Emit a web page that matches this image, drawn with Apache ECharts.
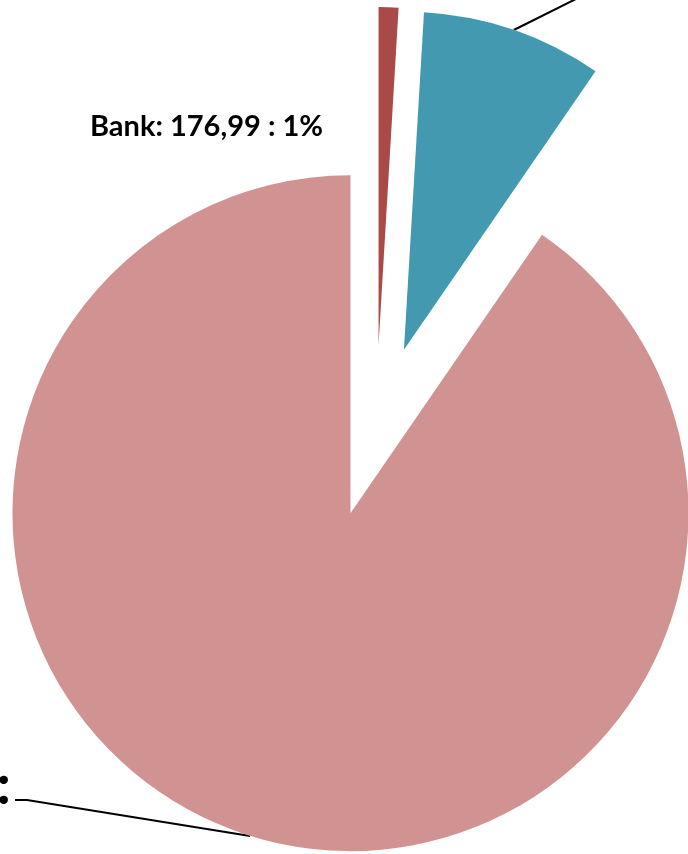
<!DOCTYPE html>
<html><head><meta charset="utf-8">
<script src="https://cdn.jsdelivr.net/npm/echarts@6/dist/echarts.min.js"></script>
<style>html,body{margin:0;padding:0;background:#fff}#c{width:688px;height:854px}</style>
</head><body><div id="c"></div>
<script>
const categories = ['Bank', 'Versicherung', 'Sonstiges'];
const values = [176.99, 1620, 16940];
const colors = ['#A94A48', '#4399B0', '#D19292'];
const wrapLabel = [false, false, true];
// label placement for each slice's data label
const labelPlacement = [
  {x: 90, y: 127, align: 'left', line: false, size: 29, lh: 34, pad: [0, 0, 0, 0]},
  {x: 686, y: -50, align: 'left', line: true, size: 56, lh: 64, pad: [0, 0, 0, 0]},
  {right: 15, y: 800, align: 'center', line: true, size: 56, lh: 28, pad: [0, 4, 0, 0]}
];
const pieCenter = [376, 431];
const pieRadius = 338;
const explode = 86;

function fmt(v) {
  const parts = v.toFixed(2).split('.');
  return parts[0].replace(/\B(?=(\d{3})+(?!\d))/g, '.') + ',' + parts[1];
}

const total = values.reduce((a, b) => a + b, 0);
let cum = 0;
const series = categories.map((name, i) => {
  const mid = (cum + values[i] / 2) / total * 2 * Math.PI;
  cum += values[i];
  const c = [pieCenter[0] + explode * Math.sin(mid), pieCenter[1] - explode * Math.cos(mid)];
  const lp = labelPlacement[i];
  return {
    type: 'pie',
    center: c,
    radius: pieRadius,
    startAngle: 90,
    clockwise: true,
    avoidLabelOverlap: false,
    silent: true,
    emphasis: {disabled: true},
    itemStyle: {borderWidth: 0},
    data: categories.map((n, j) => ({
      name: n, value: values[j],
      itemStyle: {color: j === i ? colors[j] : 'rgba(0,0,0,0)'},
      label: {show: j === i},
      labelLine: {show: j === i && labelPlacement[j].line}
    })),
    label: {
      position: 'outside',
      color: '#000',
      fontFamily: 'Lato',
      fontWeight: 'bold',
      fontSize: lp.size,
      lineHeight: lp.lh,
      padding: lp.pad,
      backgroundColor: 'rgba(255,255,255,0)',
      formatter: function (p) {
        const pct = Math.round(p.percent) + '%';
        const sep = wrapLabel[p.dataIndex] ? ' :\n' : ' : ';
        return p.name + ': ' + fmt(p.value) + sep + pct;
      }
    },
    labelLine: {length: 20, length2: 12, lineStyle: {color: '#000', width: 2}},
    labelLayout: function (p) {
      const c = labelPlacement[p.dataIndex];
      let x = c.x;
      if (c.right != null) x = c.right - p.labelRect.width / 2;
      return {x: x, y: c.y, align: c.align, verticalAlign: 'middle'};
    }
  };
});

const chart = echarts.init(document.getElementById('c'), null, {renderer: 'canvas'});
chart.setOption({animation: false, series: series});
</script>
</body></html>
